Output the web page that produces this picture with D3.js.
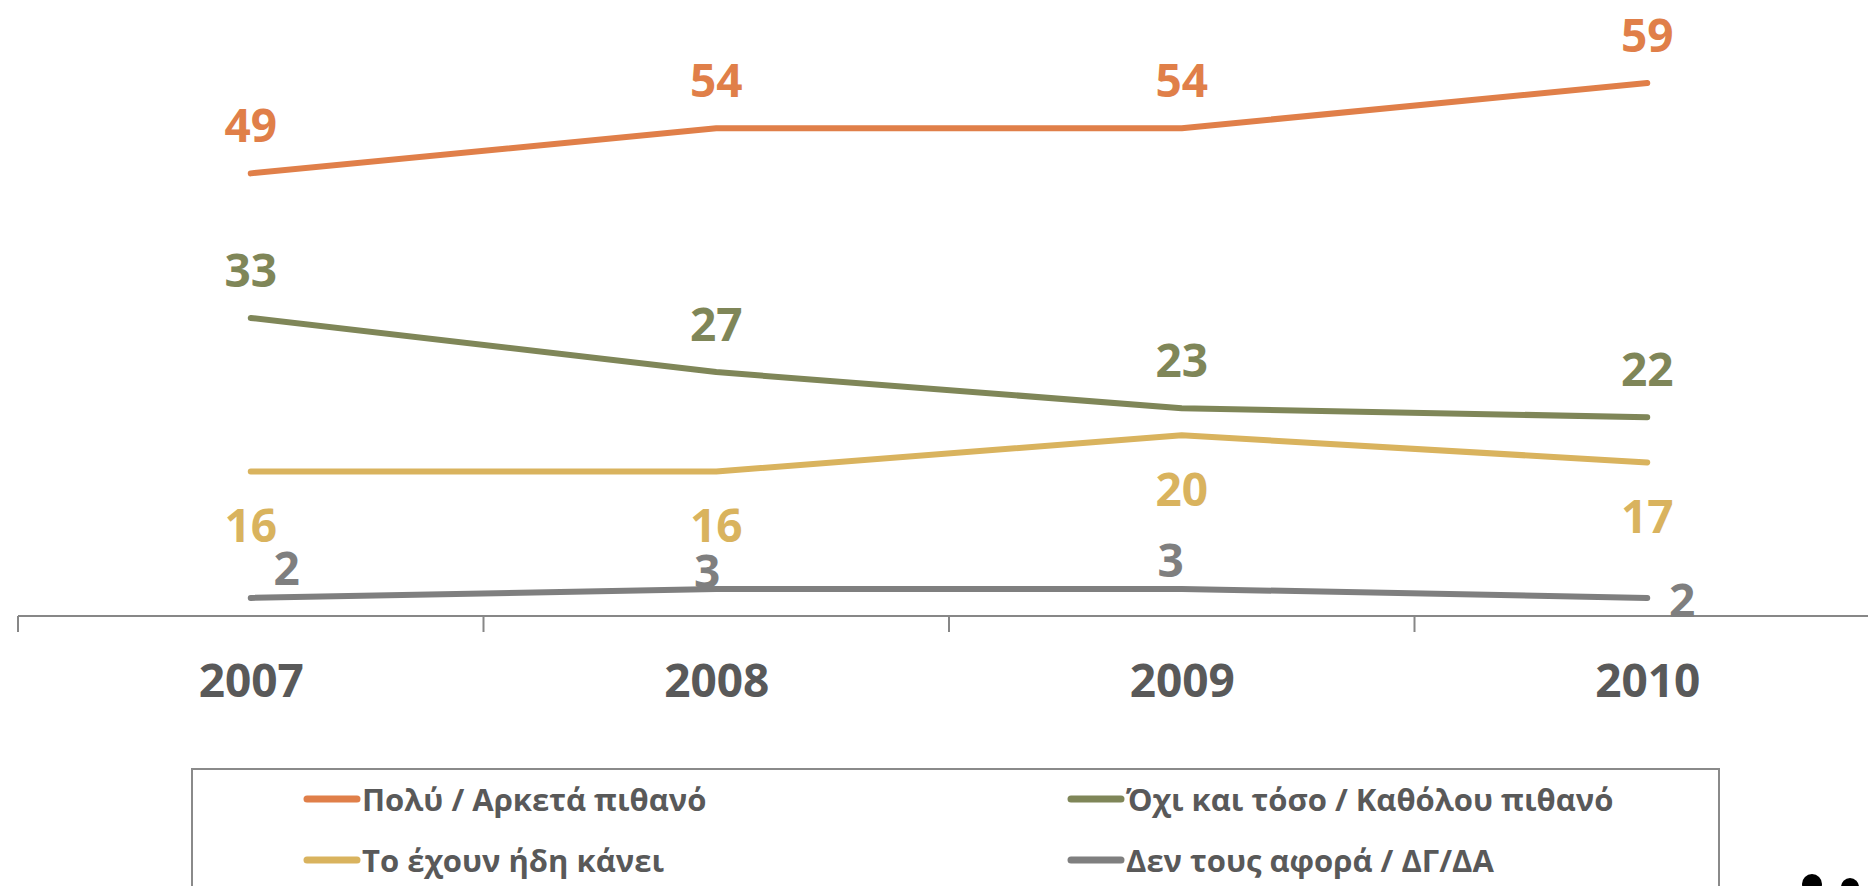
<!DOCTYPE html>
<html>
<head>
<meta charset="utf-8">
<script src="https://cdn.jsdelivr.net/npm/d3@7"></script>
<style>
  html, body { margin: 0; padding: 0; background: #fff; }
  svg { display: block; }
</style>
</head>
<body>
<svg id="chart" width="1868" height="886"></svg>
<script>
// ---- data ----
const years = ["2007", "2008", "2009", "2010"];
const seriesNames = [
  "Πολύ / Αρκετά πιθανό",
  "Όχι και τόσο / Καθόλου πιθανό",
  "Το έχουν ήδη κάνει",
  "Δεν τους αφορά / ΔΓ/ΔΑ"
];
const likely = [49, 54, 54, 59];
const notLikely = [33, 27, 23, 22];
const alreadyDone = [16, 16, 20, 17];
const dontKnow = [2, 3, 3, 2];

// ---- styles / layout ----
const colors = ["#E07F49", "#7F8658", "#D9B35E", "#7F7F7F"];
const labelOffsets = [
  [[0, -49], [0, -49], [0, -49], [0, -49]],
  [[0, -49], [0, -49], [0, -49], [0, -49]],
  [[0, 53], [0, 53], [0, 53], [0, 53]],
  [[36, -31], [-9, -19], [-11, -30], [35, 1]]
];
const font = "'Open Sans', 'Noto Sans', sans-serif";

const svg = d3.select("#chart");

const band = d3.scaleBand().domain(years).range([18, 1880]).paddingInner(0).paddingOuter(0);
const x = d3.scalePoint().domain(years).range([18, 1880]).padding(0.5);
const y = d3.scaleLinear().domain([0, 60]).range([616, 74]);

const allSeries = [likely, notLikely, alreadyDone, dontKnow];

// axis line + boundary ticks
const axisG = svg.append("g");
axisG.append("line")
  .attr("x1", band.range()[0]).attr("x2", band.range()[1])
  .attr("y1", y(0)).attr("y2", y(0))
  .attr("stroke", "#878787").attr("stroke-width", 2);
const bounds = years.map(d => band(d)).concat([band(years[years.length - 1]) + band.bandwidth()]);
axisG.selectAll("line.tick").data(bounds).enter().append("line")
  .attr("class", "tick")
  .attr("x1", d => d).attr("x2", d => d)
  .attr("y1", y(0)).attr("y2", y(0) + 16)
  .attr("stroke", "#878787").attr("stroke-width", 2);

// year labels
const xAxis = svg.append("g")
  .attr("transform", `translate(0,${y(0)})`)
  .call(d3.axisBottom(x).tickSize(0).tickPadding(48));
xAxis.select(".domain").remove();
xAxis.selectAll("text")
  .attr("fill", "#595959")
  .style("font-family", font)
  .style("font-weight", "700")
  .style("font-size", "46px");

// lines
const line = d3.line().x((d, i) => x(years[i])).y(d => y(d));
allSeries.forEach((s, k) => {
  svg.append("path")
    .datum(s)
    .attr("d", line)
    .attr("fill", "none")
    .attr("stroke", colors[k])
    .attr("stroke-width", 6)
    .attr("stroke-linecap", "round")
    .attr("stroke-linejoin", "round");
});

// data labels
allSeries.forEach((s, k) => {
  svg.append("g").selectAll("text").data(s).enter().append("text")
    .attr("x", (d, i) => x(years[i]) + labelOffsets[k][i][0])
    .attr("y", (d, i) => y(d) + labelOffsets[k][i][1])
    .attr("text-anchor", "middle")
    .attr("dominant-baseline", "central")
    .attr("fill", colors[k])
    .style("font-family", font)
    .style("font-weight", "700")
    .style("font-size", "46px")
    .text(d => d);
});

// legend
const legend = svg.append("g");
legend.append("rect")
  .attr("x", 192).attr("y", 769)
  .attr("width", 1527).attr("height", 140)
  .attr("fill", "none").attr("stroke", "#8a8a8a").attr("stroke-width", 2);
const legendPos = [[304, 799], [1068, 799], [304, 860], [1068, 860]];
seriesNames.forEach((name, k) => {
  const [lx, ly] = legendPos[k];
  legend.append("line")
    .attr("x1", lx + 3).attr("x2", lx + 53)
    .attr("y1", ly).attr("y2", ly)
    .attr("stroke", colors[k]).attr("stroke-width", 7)
    .attr("stroke-linecap", "round");
  legend.append("text")
    .attr("x", lx + 58).attr("y", ly)
    .attr("dominant-baseline", "central")
    .attr("fill", "#595959")
    .style("font-family", font)
    .style("font-weight", "700")
    .style("font-size", "31px")
    .text(name);
});

// decorative dots at bottom right (cropped)
svg.append("circle").attr("cx", 1812).attr("cy", 884).attr("r", 10).attr("fill", "#000");
svg.append("circle").attr("cx", 1850).attr("cy", 887).attr("r", 9).attr("fill", "#000");
</script>
</body>
</html>
